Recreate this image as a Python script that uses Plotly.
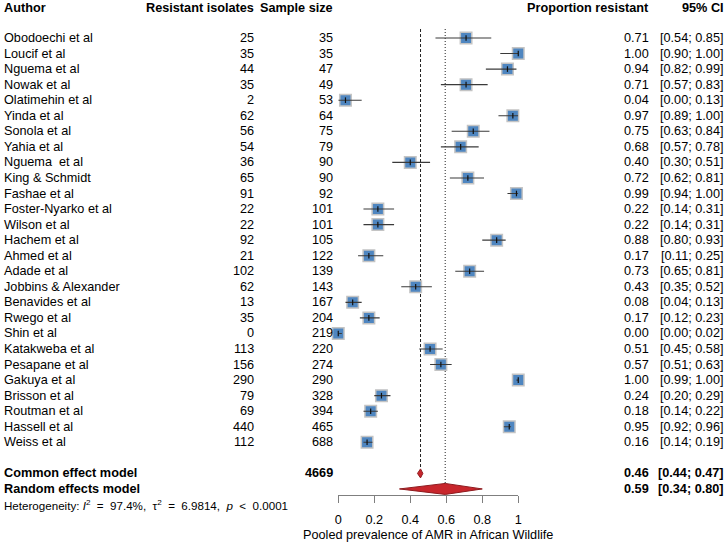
import plotly.graph_objects as go

authors = ["Obodoechi et al", "Loucif et al", "Nguema et al", "Nowak et al", "Olatimehin et al",
           "Yinda et al", "Sonola et al", "Yahia et al", "Nguema\u00a0 et al", "King & Schmidt",
           "Fashae et al", "Foster-Nyarko et al", "Wilson et al", "Hachem et al", "Ahmed et al",
           "Adade et al", "Jobbins & Alexander", "Benavides et al", "Rwego et al", "Shin et al",
           "Katakweba et al", "Pesapane et al", "Gakuya et al", "Brisson et al", "Routman et al",
           "Hassell et al", "Weiss et al"]
resistant = [25, 35, 44, 35, 2, 62, 56, 54, 36, 65, 91, 22, 22, 92, 21, 102, 62, 13, 35, 0,
             113, 156, 290, 79, 69, 440, 112]
sample = [35, 35, 47, 49, 53, 64, 75, 79, 90, 90, 92, 101, 101, 105, 122, 139, 143, 167, 204, 219,
          220, 274, 290, 328, 394, 465, 688]
prop = [0.71, 1.00, 0.94, 0.71, 0.04, 0.97, 0.75, 0.68, 0.40, 0.72, 0.99, 0.22, 0.22, 0.88, 0.17,
        0.73, 0.43, 0.08, 0.17, 0.00, 0.51, 0.57, 1.00, 0.24, 0.18, 0.95, 0.16]
ci_lo = [0.54, 0.90, 0.82, 0.57, 0.00, 0.89, 0.63, 0.57, 0.30, 0.62, 0.94, 0.14, 0.14, 0.80, 0.11,
         0.65, 0.35, 0.04, 0.12, 0.00, 0.45, 0.51, 0.99, 0.20, 0.14, 0.92, 0.14]
ci_hi = [0.85, 1.00, 0.99, 0.83, 0.13, 1.00, 0.84, 0.78, 0.51, 0.81, 1.00, 0.31, 0.31, 0.93, 0.25,
         0.81, 0.52, 0.13, 0.23, 0.02, 0.58, 0.63, 1.00, 0.29, 0.22, 0.96, 0.19]

total_n = 4669
common = {"est": 0.457, "lo": 0.44, "hi": 0.47, "txt": ("0.46", "[0.44; 0.47]")}
random_m = {"est": 0.594, "lo": 0.34, "hi": 0.80, "txt": ("0.59", "[0.34; 0.80]")}
tick_vals = [0, 0.2, 0.4, 0.6, 0.8, 1]
tick_text = ["0", "0.2", "0.4", "0.6", "0.8", "1"]
x_title = "Pooled prevalence of AMR in African Wildlife"
sp = "\u00a0"
sp2 = sp * 2
heterogeneity = (f"Heterogeneity: <i>I</i><sup>2</sup>{sp2}={sp2}97.4%,{sp} \u03c4<sup>2</sup>{sp2}={sp2}6.9814,{sp} "
                 f"<i>p</i>{sp2}&lt;{sp2}0.0001")

W, H = 725, 544
FONT = "Liberation Sans, Arial, sans-serif"
FS = 12.7

row0, dy = 38.0, 15.55
rows = [row0 + i * dy for i in range(len(authors))]
y_header = row0 - 1.95 * dy
y_common = row0 + 28 * dy
y_random = row0 + 29 * dy
y_het = row0 + 30 * dy

fig = go.Figure()

# Reference lines (common dashed, random dotted)
fig.add_trace(go.Scatter(x=[common["est"], common["est"]], y=[29, y_common - 4.5], mode="lines",
                         line=dict(color="#222222", width=1, dash="3px,2px"), hoverinfo="skip", showlegend=False))
fig.add_trace(go.Scatter(x=[random_m["est"], random_m["est"]], y=[29, y_random - 5.5], mode="lines",
                         line=dict(color="#222222", width=1, dash="1px,2px"), hoverinfo="skip", showlegend=False))

# squares
fig.add_trace(go.Scatter(x=prop, y=rows, mode="markers", cliponaxis=False,
                         marker=dict(symbol="square", size=11.5, color="#4F86C0",
                                     line=dict(color="#C4C4C4", width=1.5)),
                         hoverinfo="skip", showlegend=False))

# CI lines
cx, cy = [], []
for lo, hi, y in zip(ci_lo, ci_hi, rows):
    cx += [lo, hi, None]
    cy += [y, y, None]
fig.add_trace(go.Scatter(x=cx, y=cy, mode="lines", line=dict(color="#3A3A3A", width=1.1),
                         hoverinfo="skip", showlegend=False, cliponaxis=False))
# estimate ticks
fig.add_trace(go.Scatter(x=prop, y=rows, mode="markers", cliponaxis=False,
                         marker=dict(symbol="line-ns", size=4, line=dict(color="#111111", width=1.2)),
                         hoverinfo="skip", showlegend=False))

# diamonds
for m, y, hh in [(common, y_common, 4.5), (random_m, y_random, 5.5)]:
    fig.add_trace(go.Scatter(x=[m["lo"], m["est"], m["hi"], m["est"], m["lo"]],
                             y=[y, y - hh, y, y + hh, y], mode="lines", fill="toself",
                             fillcolor="#C8262C", line=dict(color="#8E1B1F", width=1),
                             hoverinfo="skip", showlegend=False, cliponaxis=False))

ann = []
def txt(x, y, s, anchor="left", bold=False, size=FS, shift=0):
    ann.append(dict(x=x / W, xref="paper", y=y, yref="y", text=f"<b>{s}</b>" if bold else s,
                    xanchor=anchor, yanchor="middle", showarrow=False, xshift=shift,
                    font=dict(family=FONT, size=size, color="#000000"), borderpad=0))

X_AUTH, X_RES, X_N, X_P, X_CI = 3, 253, 332, 649, 723
S_AUTH, S_RES, S_N, S_P, S_CI = -4, 1, 2, 4, 6
txt(X_AUTH, y_header, "Author", bold=True, shift=S_AUTH)
txt(X_RES, y_header, "Resistant isolates", "right", True, shift=S_RES)
txt(X_N, y_header, "Sample size", "right", True, shift=S_N)
txt(X_P, y_header, "Proportion resistant", "right", True, shift=S_P)
txt(X_CI, y_header, "95% CI", "right", True, shift=S_CI)

for a, r, n, p, lo, hi, y in zip(authors, resistant, sample, prop, ci_lo, ci_hi, rows):
    txt(X_AUTH, y, a, shift=S_AUTH)
    txt(X_RES, y, str(r), "right", shift=S_RES)
    txt(X_N, y, str(n), "right", shift=S_N)
    txt(X_P, y, f"{p:.2f}", "right", shift=S_P)
    txt(X_CI, y, f"[{lo:.2f}; {hi:.2f}]", "right", shift=S_CI)

txt(X_AUTH, y_common, "Common effect model", bold=True, shift=S_AUTH)
txt(X_N, y_common, str(total_n), "right", True, shift=S_N)
txt(X_P, y_common, common["txt"][0], "right", True, shift=S_P)
txt(X_CI, y_common, common["txt"][1], "right", True, shift=S_CI)
txt(X_AUTH, y_random, "Random effects model", bold=True, shift=S_AUTH)
txt(X_P, y_random, random_m["txt"][0], "right", True, shift=S_P)
txt(X_CI, y_random, random_m["txt"][1], "right", True, shift=S_CI)
txt(X_AUTH, y_het, heterogeneity, size=11.6, shift=S_AUTH)

ann.append(dict(x=0.5, xref="x domain", y=535, yref="y", text=x_title, showarrow=False,
                xanchor="center", yanchor="middle", font=dict(family=FONT, size=FS, color="#000")))

x0_px, x1_px = 338, 520
fig.update_layout(
    width=W, height=H, margin=dict(l=0, r=0, t=0, b=0),
    paper_bgcolor="white", plot_bgcolor="white",
    annotations=ann,
    xaxis=dict(domain=[x0_px / W, x1_px / W], range=[0, 1], anchor="free", position=1 - 495 / H,
               showgrid=False, zeroline=False, showline=True, linecolor="#7F7F7F", linewidth=1,
               ticks="outside", ticklen=7, tickwidth=1, tickcolor="#7F7F7F",
               tickvals=tick_vals, ticktext=tick_text, ticklabelstandoff=6,
               tickfont=dict(family=FONT, size=FS, color="#000")),
    yaxis=dict(domain=[0, 1], range=[H, 0], visible=False, showgrid=False, zeroline=False),
)

fig.write_html("out.html")
